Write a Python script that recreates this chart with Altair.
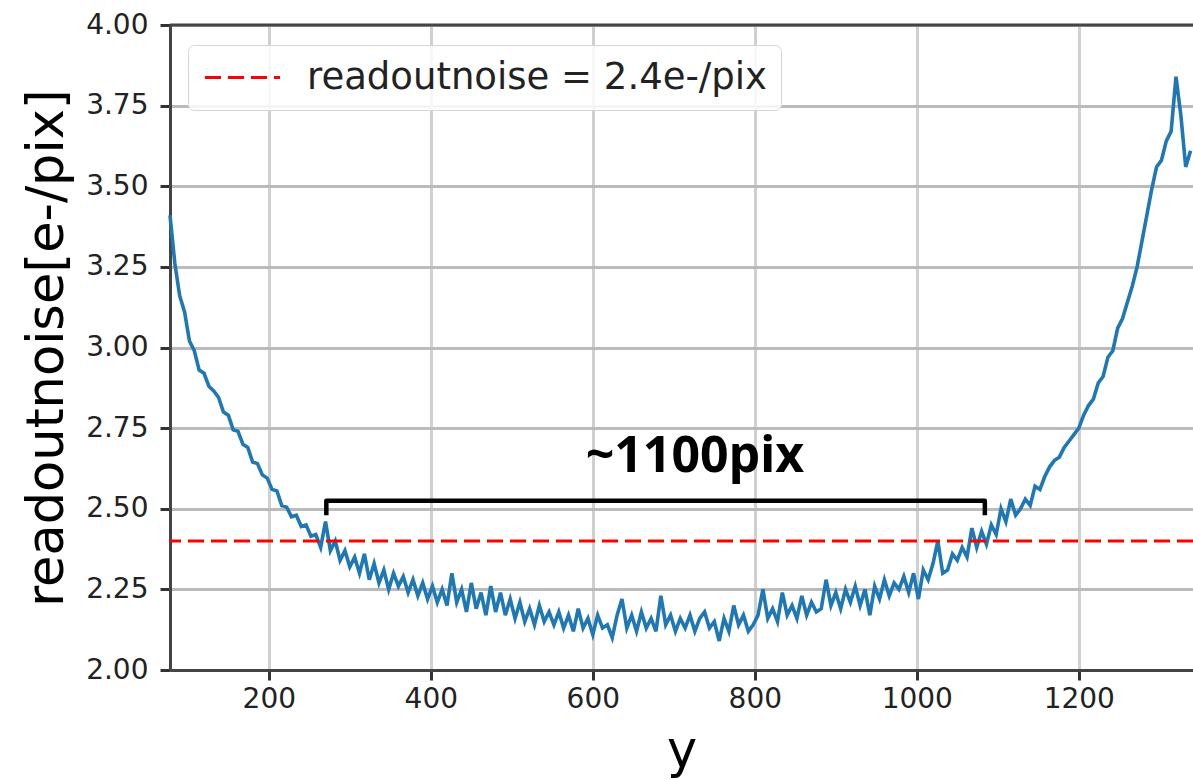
import altair as alt
import pandas as pd

# ---- data ----
pix_rows = list(range(78, 1339, 6))
noise = [
    3.41, 3.26, 3.16, 3.11, 3.02, 2.99, 2.93, 2.92, 2.88, 2.865,
    2.845, 2.80, 2.79, 2.745, 2.74, 2.70, 2.69, 2.645, 2.64, 2.605,
    2.595, 2.56, 2.555, 2.51, 2.505, 2.475, 2.48, 2.445, 2.45, 2.415,
    2.42, 2.38, 2.46, 2.37, 2.40, 2.34, 2.37, 2.32, 2.35, 2.30,
    2.36, 2.28, 2.33, 2.27, 2.31, 2.25, 2.30, 2.26, 2.29, 2.24,
    2.28, 2.23, 2.27, 2.22, 2.26, 2.21, 2.25, 2.20, 2.30, 2.21,
    2.25, 2.18, 2.27, 2.19, 2.24, 2.17, 2.26, 2.18, 2.24, 2.17,
    2.22, 2.16, 2.21, 2.15, 2.19, 2.14, 2.20, 2.15, 2.18, 2.14,
    2.18, 2.13, 2.17, 2.12, 2.19, 2.13, 2.16, 2.11, 2.17, 2.13,
    2.14, 2.10, 2.17, 2.22, 2.13, 2.17, 2.12, 2.18, 2.13, 2.16,
    2.12, 2.23, 2.14, 2.17, 2.12, 2.16, 2.13, 2.17, 2.12, 2.16,
    2.18, 2.13, 2.15, 2.09, 2.16, 2.12, 2.20, 2.14, 2.17, 2.12,
    2.14, 2.17, 2.25, 2.16, 2.19, 2.15, 2.24, 2.17, 2.20, 2.16,
    2.23, 2.17, 2.21, 2.18, 2.19, 2.28, 2.20, 2.24, 2.19, 2.25,
    2.21, 2.26, 2.20, 2.25, 2.17, 2.26, 2.22, 2.28, 2.23, 2.27,
    2.25, 2.29, 2.24, 2.30, 2.22, 2.31, 2.28, 2.33, 2.40, 2.30,
    2.31, 2.36, 2.34, 2.38, 2.35, 2.44, 2.38, 2.43, 2.39, 2.45,
    2.42, 2.50, 2.46, 2.53, 2.48, 2.50, 2.53, 2.51, 2.57, 2.56,
    2.60, 2.63, 2.65, 2.66, 2.69, 2.71, 2.73, 2.75, 2.79, 2.82,
    2.84, 2.89, 2.91, 2.97, 2.99, 3.06, 3.09, 3.14, 3.19, 3.25,
    3.33, 3.41, 3.49, 3.56, 3.58, 3.64, 3.67, 3.84, 3.72, 3.56, 3.61,
]
threshold = [2.4]
threshold_label = ["readoutnoise = 2.4e-/pix"]
x_ticks = [200, 400, 600, 800, 1000, 1200]
y_ticks = [2.00, 2.25, 2.50, 2.75, 3.00, 3.25, 3.50, 3.75, 4.00]
x_domain = [78, 1341]
y_domain = [2.0, 4.0]
bracket_x = [271, 271, 1084, 1084]
bracket_y = [2.48, 2.525, 2.525, 2.48]
bracket_order = [0, 1, 2, 3]
note_x = [726]
note_y = [2.614]
note_text = ["~1100pix"]

line_df = pd.DataFrame({"row": pix_rows, "noise": noise})
thr_df = pd.DataFrame({"v": threshold, "label": threshold_label})
top_df = pd.DataFrame({"v": [y_domain[1]]})
br_df = pd.DataFrame({"x": bracket_x, "y": bracket_y, "o": bracket_order})
note_df = pd.DataFrame({"x": note_x, "y": note_y, "t": note_text})

xscale = alt.Scale(domain=x_domain, nice=False, zero=False)
yscale = alt.Scale(domain=y_domain, nice=False, zero=False)

x_axis = alt.Axis(
    title="y", values=x_ticks, format="d", gridColor="#d0d0d0",
    titleBaseline="alphabetic", titleY=96, labelPadding=5,
)
y_axis = alt.Axis(
    title="readoutnoise[e-/pix]", values=y_ticks, format=".2f", gridColor="#bbbbbb",
    titleX=-108, titleBaseline="alphabetic", titleAngle=-90, titleAlign="center",
    labelPadding=12,
)

top_spine = alt.Chart(top_df).mark_rule(color="#444444", strokeWidth=3).encode(
    y=alt.Y("v:Q", scale=yscale, axis=y_axis)
)

line = alt.Chart(line_df).mark_line(color="#1f77b4", strokeWidth=3.6).encode(
    x=alt.X("row:Q", scale=xscale, axis=x_axis),
    y=alt.Y("noise:Q", scale=yscale, axis=y_axis),
)

thr = alt.Chart(thr_df).mark_rule(strokeWidth=3, strokeDash=[16, 7]).encode(
    y=alt.Y("v:Q", scale=yscale),
    stroke=alt.Stroke(
        "label:N",
        scale=alt.Scale(domain=threshold_label, range=["#ff0000"]),
        legend=alt.Legend(
            title=None, orient="none", legendX=18, legendY=20,
            symbolType="M-2.5,0H2.5", symbolSize=900, symbolStrokeWidth=3,
            symbolDash=[16, 7], symbolOffset=22, labelFont="DejaVu Sans",
            labelFontSize=37, labelColor="#222222", labelOffset=46,
            labelLimit=700, padding=14, fillColor="rgba(255,255,255,0.85)",
            strokeColor="#d5d5d5", cornerRadius=6,
        ),
    ),
)

bracket = alt.Chart(br_df).mark_line(
    color="black", strokeWidth=4.5, strokeJoin="round", strokeCap="butt"
).encode(
    x=alt.X("x:Q", scale=xscale),
    y=alt.Y("y:Q", scale=yscale),
    order="o:Q",
)

note = alt.Chart(note_df).mark_text(
    font="Noto Sans", fontSize=50, fontWeight="bold", color="black",
    align="center", baseline="alphabetic",
).encode(
    x=alt.X("x:Q", scale=xscale),
    y=alt.Y("y:Q", scale=yscale),
    text="t:N",
)

chart = (
    alt.layer(top_spine, line, thr, bracket, note)
    .properties(
        width=1023, height=645,
        padding={"left": 170, "top": 25, "right": 0, "bottom": 110},
        autosize=alt.AutoSizeParams(type="none"),
        background="white",
    )
    .configure_view(stroke=None)
    .configure_axis(
        domainColor="#444444", domainWidth=3,
        tickColor="#333333", tickWidth=3, tickSize=10,
        labelFont="DejaVu Sans", labelFontSize=28, labelColor="#222222",
        titleFont="DejaVu Sans", titleFontSize=51, titleFontWeight="normal",
        titleColor="black", gridWidth=3,
    )
)

chart.save("out.html", embed_options={"renderer": "svg", "actions": False})
